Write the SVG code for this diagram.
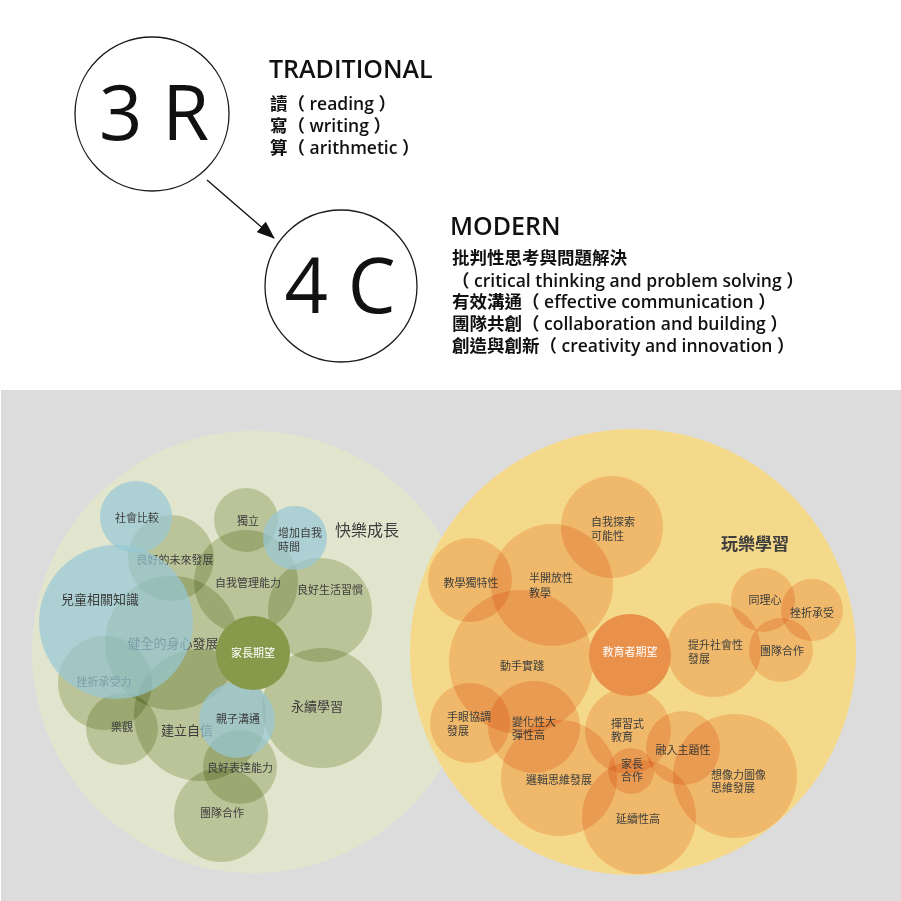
<svg xmlns="http://www.w3.org/2000/svg" width="901" height="901" viewBox="0 0 901 901">
<defs>
<style>
.ring{fill:#fff;stroke:#1a1a1a;stroke-width:1.3}
.big{font-family:"Open Sans","Noto Sans",sans-serif;font-size:76px;fill:#111;text-anchor:middle}
.head{font-family:"Open Sans","Noto Sans",sans-serif;font-size:25px;font-weight:600;fill:#111}
.body{font-family:"Open Sans","Noto Sans CJK TC",sans-serif;font-size:17.5px;font-weight:600;fill:#111}
.gr{fill:#d4dbbd;mix-blend-mode:multiply}
.bl{fill:#95c8d5;fill-opacity:.7}
.gd{fill:#879a4b}
.or{fill:#f9d9c3;mix-blend-mode:multiply}
.od{fill:#e9904b}
.lb{font-family:"Noto Sans CJK TC","Noto Sans",sans-serif;font-size:11px;fill:#3d3d3d}
.lm{font-family:"Noto Sans CJK TC","Noto Sans",sans-serif;font-size:13px;fill:#3d3d3d}
.lw{font-family:"Noto Sans CJK TC","Noto Sans",sans-serif;font-size:11px;fill:#fff}
.tt{font-family:"Noto Sans CJK TC","Noto Sans",sans-serif;font-size:16px;fill:#3d3d3d;text-anchor:middle}
.c{text-anchor:middle}
</style>
<marker id="ah" markerUnits="userSpaceOnUse" markerWidth="18" markerHeight="14" refX="17" refY="7" orient="auto">
<path d="M0,0 L18,7 L0,14 z" fill="#111"/>
</marker>
</defs>
<rect x="0" y="0" width="901" height="901" fill="#fff"/>
<rect x="1" y="390" width="900" height="511" fill="#dcdcdc"/>

<g id="n3r"><circle class="ring" cx="152" cy="114" r="77"/><text class="big" x="154" y="140">3 R</text></g>
<g id="traditional"><text class="head" x="269" y="78">TRADITIONAL</text>
<text class="body" x="270" y="110">讀（ reading ）</text>
<text class="body" x="270" y="132">寫（ writing ）</text>
<text class="body" x="270" y="154">算（ arithmetic ）</text></g>
<g id="n4c"><circle class="ring" cx="341" cy="286" r="76"/><text class="big" x="340" y="313">4 C</text></g>
<g id="modern"><text class="head" x="450" y="235">MODERN</text>
<text class="body" x="452" y="264">批判性思考與問題解決</text>
<text class="body" x="452" y="287">（ critical thinking and problem solving ）</text>
<text class="body" x="452" y="308">有效溝通（ effective communication ）</text>
<text class="body" x="452" y="330">團隊共創（ collaboration and building ）</text>
<text class="body" x="452" y="352">創造與創新（ creativity and innovation ）</text></g>
<g id="connectors"><line x1="207" y1="180" x2="274" y2="238" stroke="#111" stroke-width="1.3" marker-end="url(#ah)"/></g>

<g id="happy"><circle cx="253" cy="652" r="221" fill="#e1e5cd"/></g>
<g id="play"><circle cx="633" cy="652" r="223" fill="#f5d98b"/></g>

<g id="g2"><circle class="gr" cx="246" cy="520" r="32"/><text class="lb c" x="248" y="525">獨立</text></g>
<g id="g6"><circle class="gr" cx="320" cy="610" r="52"/><text class="lb c" x="330" y="594">良好生活習慣</text></g>
<g id="g5"><circle class="gr" cx="246" cy="582" r="52"/><text class="lb c" x="248" y="587">自我管理能力</text></g>
<g id="g4"><circle class="gr" cx="171" cy="558" r="43"/><text class="lb c" x="175" y="564">良好的未來發展</text></g>
<g id="g8"><circle class="gr" cx="172" cy="643" r="67"/><text class="lm c" x="173" y="648">健全的身心發展</text></g>
<g id="g10"><circle class="gr" cx="105" cy="683" r="47"/><text class="lb c" x="104" y="686">挫折承受力</text></g>
<g id="g11"><circle class="gr" cx="122" cy="729" r="36"/><text class="lb c" x="122" y="731">樂觀</text></g>
<g id="g12"><circle class="gr" cx="200" cy="715" r="66"/><text class="lm c" x="187" y="735">建立自信</text></g>
<g id="g14"><circle class="gr" cx="322" cy="708" r="60"/><text class="lm c" x="317" y="711">永續學習</text></g>
<g id="g16"><circle class="gr" cx="221" cy="815" r="47"/><text class="lb c" x="222" y="817">團隊合作</text></g>
<g id="g15"><circle class="gr" cx="240" cy="767" r="37"/><text class="lb c" x="240" y="772">良好表達能力</text></g>
<g id="g1"><circle class="bl" cx="136" cy="517" r="36"/><text class="lb c" x="137" y="522">社會比較</text></g>
<g id="g3"><circle class="bl" cx="295" cy="538" r="32"/><text class="lb" x="278" y="537">增加自我</text><text class="lb" x="278" y="551">時間</text></g>
<g id="g7"><circle class="bl" cx="116" cy="622" r="77"/><text class="lm c" x="100" y="604">兒童相關知識</text></g>
<g id="g13"><circle class="bl" cx="237" cy="720" r="38"/><text class="lb c" x="238" y="723">親子溝通</text></g>
<g id="g9"><circle class="gd" cx="253" cy="653" r="37"/><text class="lw c" x="253" y="657">家長期望</text></g>
<text class="tt" x="367" y="536">快樂成長</text>

<g id="o1"><circle class="or" cx="612" cy="527" r="51"/><text class="lb" x="591" y="526">自我探索</text><text class="lb" x="591" y="540">可能性</text></g>
<g id="o2"><circle class="or" cx="470" cy="580" r="42"/><text class="lb c" x="471" y="587">教學獨特性</text></g>
<g id="o3"><circle class="or" cx="552" cy="585" r="61"/><text class="lb" x="529" y="582">半開放性</text><text class="lb" x="529" y="597">教學</text></g>
<g id="o4"><circle class="or" cx="521" cy="662" r="72"/><text class="lb c" x="522" y="670">動手實踐</text></g>
<g id="o6"><circle class="or" cx="714" cy="650" r="47"/><text class="lb" x="688" y="649">提升社會性</text><text class="lb" x="688" y="663">發展</text></g>
<g id="o7"><circle class="or" cx="763" cy="600" r="32"/><text class="lb c" x="765" y="604">同理心</text></g>
<g id="o8"><circle class="or" cx="812" cy="610" r="31"/><text class="lb c" x="812" y="617">挫折承受</text></g>
<g id="o9"><circle class="or" cx="781" cy="650" r="32"/><text class="lb c" x="782" y="655">團隊合作</text></g>
<g id="o10"><circle class="or" cx="470" cy="723" r="40"/><text class="lb" x="447" y="721">手眼協調</text><text class="lb" x="447" y="735">發展</text></g>
<g id="o11"><circle class="or" cx="534" cy="727" r="46"/><text class="lb" x="512" y="726">變化性大</text><text class="lb" x="512" y="739">彈性高</text></g>
<g id="o12"><circle class="or" cx="559" cy="778" r="58"/><text class="lb c" x="559" y="784">邏輯思維發展</text></g>
<g id="o13"><circle class="or" cx="628" cy="731" r="43"/><text class="lb" x="611" y="728">揮習式</text><text class="lb" x="611" y="741">教育</text></g>
<g id="o14"><circle class="or" cx="683" cy="748" r="37"/><text class="lb c" x="683" y="754">融入主題性</text></g>
<g id="o16"><circle class="or" cx="735" cy="776" r="62"/><text class="lb" x="711" y="779">想像力圖像</text><text class="lb" x="711" y="792">思維發展</text></g>
<g id="o17"><circle class="or" cx="639" cy="817" r="57"/><text class="lb c" x="638" y="823">延續性高</text></g>
<g id="o15"><circle class="or" cx="631" cy="771" r="23"/><text class="lb" x="621" y="768">家長</text><text class="lb" x="621" y="781">合作</text></g>
<g id="o5"><circle class="od" cx="630" cy="655" r="41"/><text class="lw c" x="630" y="656">教育者期望</text></g>
<text class="tt" x="755" y="550" style="font-size:17px;font-weight:700">玩樂學習</text>
</svg>
